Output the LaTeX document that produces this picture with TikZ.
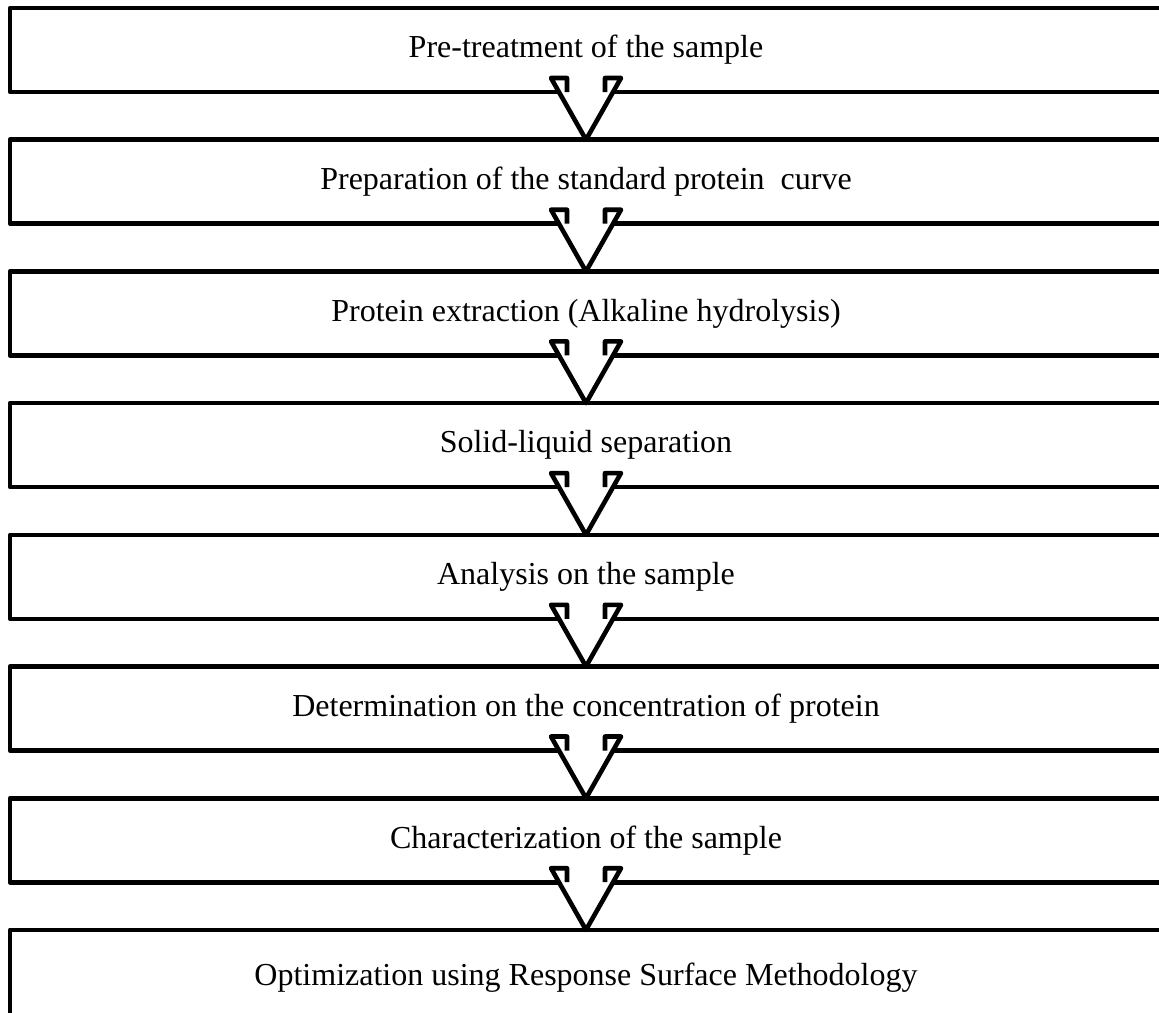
\documentclass[tikz,border=0pt]{standalone}
\usepackage{fontspec}
\setmainfont{Liberation Serif}
\usetikzlibrary{calc}
\tikzset{
  stepbox/.style={draw=black, line width=4.6pt, fill=white, rectangle, inner sep=0pt, outer sep=0pt,
    minimum width=1152pt, minimum height=84pt, font=\fontsize{32}{38}\selectfont, line join=round},
  flowarrow/.style={draw=black, line width=4.6pt, line join=round},
  arrowfill/.style={fill=white, draw=none}
}
\newcommand{\downarrowshape}[2]{%
  % #1 upper box, #2 lower box
  \fill[arrowfill] ($(#1.south)+(-19,-4)$) -- ($(#1.south)+(19,-4)$) -- ($(#1.south)+(19,-14)$) -- ($(#1.south)+(35,-14)$) -- (#2.north) -- ($(#1.south)+(-35,-14)$) -- ($(#1.south)+(-19,-14)$) -- cycle;
  \fill[white] ($(#1.south)+(-16.5,3)$) rectangle ($(#1.south)+(16.5,-4)$);
  \draw[flowarrow] ($(#1.south)+(-19,0)$) -- ($(#1.south)+(-19,-14)$) -- ($(#1.south)+(-35,-14)$) -- (#2.north) -- ($(#1.south)+(35,-14)$) -- ($(#1.south)+(19,-14)$) -- ($(#1.south)+(19,0)$);
}
\begin{document}
\begin{tikzpicture}[x=1pt,y=-1pt]
\useasboundingbox[clip] (0,0) rectangle (1159,1012);
\fill[white] (0,0) rectangle (1159,1012);
\node[stepbox] (b1) at (586,50) {Pre-treatment of the sample};
\node[stepbox] (b2) at (586,181.7) {Preparation of the standard protein\ \ curve};
\node[stepbox] (b3) at (586,313.4) {Protein extraction (Alkaline hydrolysis)};
\node[stepbox] (b4) at (586,445.1) {Solid-liquid separation};
\node[stepbox] (b5) at (586,576.8) {Analysis on the sample};
\node[stepbox] (b6) at (586,708.5) {Determination on the concentration of protein};
\node[stepbox] (b7) at (586,840.2) {Characterization of the sample};
\node[stepbox, minimum height=96pt] (b8) at (586,977.9) {Optimization using Response Surface Methodology};
\downarrowshape{b1}{b2}
\downarrowshape{b2}{b3}
\downarrowshape{b3}{b4}
\downarrowshape{b4}{b5}
\downarrowshape{b5}{b6}
\downarrowshape{b6}{b7}
\downarrowshape{b7}{b8}
\end{tikzpicture}
\end{document}
